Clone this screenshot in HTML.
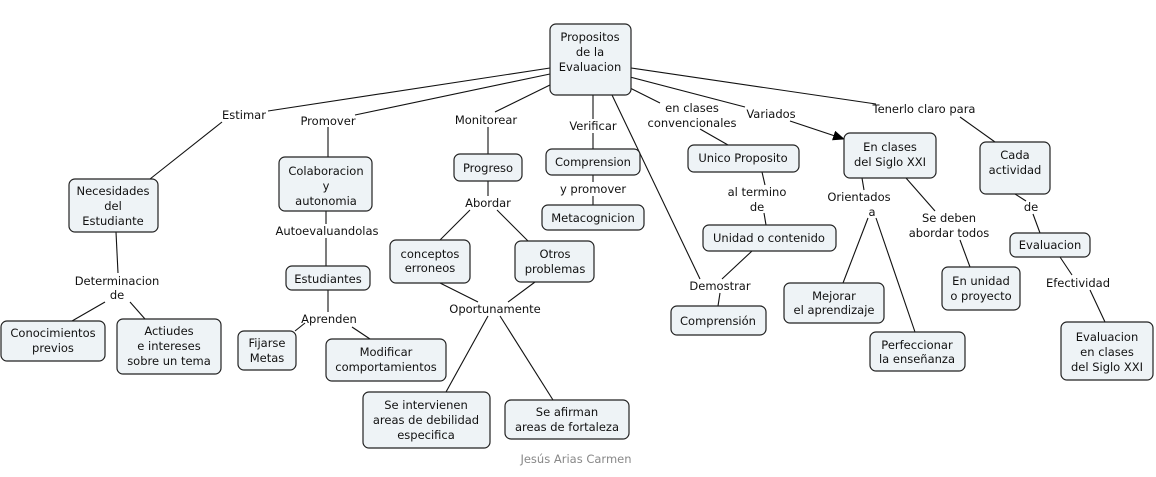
<!DOCTYPE html>
<html><head><meta charset="utf-8"><style>
html,body{margin:0;padding:0;background:#fff;}
svg{display:block;font-family:"DejaVu Sans","Liberation Sans",sans-serif;font-size:11.5px;}
.n{fill:#eef3f6;stroke:#222;stroke-width:1.2;}
line{stroke:#111;stroke-width:1.1;}
text{fill:#111;text-anchor:middle;}
</style></head><body>
<svg width="1156" height="477" viewBox="0 0 1156 477">
<defs><marker id="ar" markerWidth="12" markerHeight="10" refX="11" refY="5" orient="auto" markerUnits="userSpaceOnUse"><path d="M0,0 L12,5 L0,10 z" fill="#000"/></marker></defs>
<g>
<line x1="550" y1="68" x2="268" y2="111"/><line x1="222" y1="122" x2="150" y2="179"/>
<line x1="550" y1="74" x2="355" y2="115"/><line x1="328" y1="127" x2="328" y2="157"/>
<line x1="552" y1="84" x2="495" y2="112"/><line x1="488" y1="127" x2="488" y2="154"/>
<line x1="593" y1="95" x2="593" y2="119"/><line x1="593" y1="133" x2="593" y2="149"/>
<line x1="612" y1="95" x2="700" y2="279"/><line x1="720" y1="293" x2="718" y2="306"/>
<line x1="630" y1="88" x2="660" y2="103"/><line x1="700" y1="129" x2="728" y2="145"/>
<line x1="630" y1="77" x2="745" y2="107"/><line x1="790" y1="121" x2="844" y2="139" marker-end="url(#ar)"/>
<line x1="631" y1="68" x2="876" y2="104"/><line x1="960" y1="117" x2="995" y2="142"/>
<line x1="116" y1="232" x2="118" y2="273"/><line x1="105" y1="302" x2="72" y2="321"/><line x1="130" y1="302" x2="145" y2="319"/>
<line x1="326" y1="211" x2="326" y2="224"/><line x1="326" y1="238" x2="326" y2="266"/>
<line x1="328" y1="290" x2="328" y2="312"/><line x1="305" y1="323" x2="295" y2="331"/><line x1="352" y1="327" x2="370" y2="339"/>
<line x1="488" y1="181" x2="488" y2="196"/><line x1="470" y1="210" x2="440" y2="240"/><line x1="497" y1="210" x2="528" y2="241"/>
<line x1="440" y1="283" x2="478" y2="302"/><line x1="535" y1="282" x2="508" y2="302"/>
<line x1="488" y1="316" x2="446" y2="392"/><line x1="500" y1="316" x2="553" y2="400"/>
<line x1="593" y1="175" x2="593" y2="182"/><line x1="593" y1="196" x2="593" y2="205"/>
<line x1="762" y1="172" x2="765" y2="185"/><line x1="764" y1="213" x2="766" y2="225"/>
<line x1="752" y1="251" x2="722" y2="279"/>
<line x1="862" y1="178" x2="864" y2="190"/><line x1="868" y1="218" x2="843" y2="283"/><line x1="876" y1="218" x2="915" y2="332"/>
<line x1="906" y1="178" x2="935" y2="211"/><line x1="960" y1="240" x2="970" y2="267"/>
<line x1="1015" y1="194" x2="1026" y2="201"/><line x1="1033" y1="214" x2="1040" y2="233"/>
<line x1="1060" y1="257" x2="1072" y2="275"/><line x1="1090" y1="290" x2="1105" y2="322"/>
</g>
<g>
<rect class="n" x="550" y="24" width="81" height="71" rx="6"/>
<rect class="n" x="69" y="179" width="89" height="53" rx="6"/>
<rect class="n" x="279" y="157" width="93" height="54" rx="6"/>
<rect class="n" x="454" y="154" width="68" height="27" rx="6"/>
<rect class="n" x="546" y="149" width="94" height="26" rx="6"/>
<rect class="n" x="542" y="205" width="102" height="25" rx="6"/>
<rect class="n" x="688" y="145" width="111" height="27" rx="6"/>
<rect class="n" x="844" y="133" width="92" height="45" rx="6"/>
<rect class="n" x="980" y="142" width="70" height="52" rx="6"/>
<rect class="n" x="286" y="266" width="84" height="24" rx="6"/>
<rect class="n" x="390" y="240" width="80" height="43" rx="6"/>
<rect class="n" x="515" y="241" width="79" height="41" rx="6"/>
<rect class="n" x="703" y="225" width="133" height="26" rx="6"/>
<rect class="n" x="1010" y="233" width="80" height="24" rx="6"/>
<rect class="n" x="1" y="321" width="104" height="40" rx="6"/>
<rect class="n" x="117" y="319" width="104" height="55" rx="6"/>
<rect class="n" x="238" y="331" width="58" height="39" rx="6"/>
<rect class="n" x="326" y="339" width="120" height="42" rx="6"/>
<rect class="n" x="784" y="283" width="100" height="40" rx="6"/>
<rect class="n" x="671" y="306" width="95" height="29" rx="6"/>
<rect class="n" x="942" y="267" width="78" height="43" rx="6"/>
<rect class="n" x="870" y="332" width="95" height="39" rx="6"/>
<rect class="n" x="1061" y="322" width="92" height="58" rx="6"/>
<rect class="n" x="363" y="392" width="127" height="56" rx="6"/>
<rect class="n" x="505" y="400" width="124" height="39" rx="6"/>
</g>
<g>
<text x="590" y="41">Propositos</text><text x="590" y="56">de la</text><text x="590" y="71">Evaluacion</text>
<text x="113" y="195">Necesidades</text><text x="113" y="210">del</text><text x="113" y="225">Estudiante</text>
<text x="326" y="175">Colaboracion</text><text x="326" y="190">y</text><text x="326" y="205">autonomia</text>
<text x="488" y="172">Progreso</text>
<text x="593" y="166">Comprension</text>
<text x="593" y="222">Metacognicion</text>
<text x="743" y="162">Unico Proposito</text>
<text x="890" y="151">En clases</text><text x="890" y="166">del Siglo XXI</text>
<text x="1015" y="159">Cada</text><text x="1015" y="174">actividad</text>
<text x="328" y="283">Estudiantes</text>
<text x="430" y="258">conceptos</text><text x="430" y="272">erroneos</text>
<text x="555" y="258">Otros</text><text x="555" y="273">problemas</text>
<text x="769" y="242">Unidad o contenido</text>
<text x="1050" y="249">Evaluacion</text>
<text x="53" y="337">Conocimientos</text><text x="53" y="352">previos</text>
<text x="169" y="335">Actiudes</text><text x="169" y="350">e intereses</text><text x="169" y="365">sobre un tema</text>
<text x="267" y="347">Fijarse</text><text x="267" y="362">Metas</text>
<text x="386" y="356">Modificar</text><text x="386" y="371">comportamientos</text>
<text x="834" y="300">Mejorar</text><text x="834" y="314">el aprendizaje</text>
<text x="718" y="325">Comprensión</text>
<text x="981" y="285">En unidad</text><text x="981" y="300">o proyecto</text>
<text x="917" y="349">Perfeccionar</text><text x="917" y="363">la enseñanza</text>
<text x="1107" y="341">Evaluacion</text><text x="1107" y="356">en clases</text><text x="1107" y="371">del Siglo XXI</text>
<text x="426" y="409">Se intervienen</text><text x="426" y="424">areas de debilidad</text><text x="426" y="439">especifica</text>
<text x="567" y="416">Se afirman</text><text x="567" y="431">areas de fortaleza</text>
</g>
<g>
<text x="244" y="119">Estimar</text>
<text x="328" y="125">Promover</text>
<text x="486" y="124">Monitorear</text>
<text x="593" y="130">Verificar</text>
<text x="692" y="112">en clases</text><text x="692" y="127">convencionales</text>
<text x="771" y="118">Variados</text>
<text x="924" y="113">Tenerlo claro para</text>
<text x="117" y="285">Determinacion</text><text x="117" y="299">de</text>
<text x="327" y="235">Autoevaluandolas</text>
<text x="329" y="323">Aprenden</text>
<text x="488" y="207">Abordar</text>
<text x="495" y="313">Oportunamente</text>
<text x="593" y="193">y promover</text>
<text x="757" y="196">al termino</text><text x="757" y="211">de</text>
<text x="720" y="290">Demostrar</text>
<text x="859" y="201">Orientados</text><text x="872" y="216">a</text>
<text x="949" y="222">Se deben</text><text x="949" y="237">abordar todos</text>
<text x="1031" y="211">de</text>
<text x="1078" y="287">Efectividad</text>
<text x="576" y="463" style="fill:#888">Jesús Arias Carmen</text>
</g>
</svg>
</body></html>
